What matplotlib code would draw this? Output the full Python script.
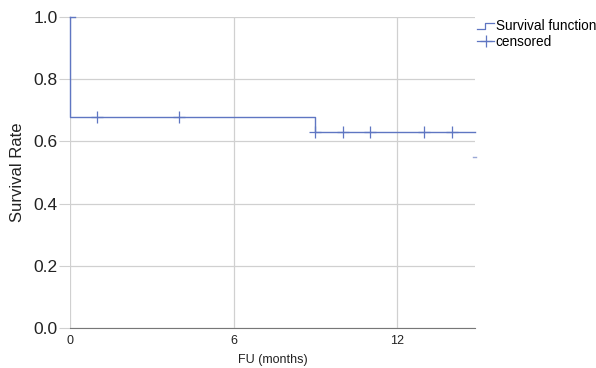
import matplotlib
matplotlib.use("Agg")
import matplotlib.pyplot as plt
from matplotlib.lines import Line2D
from matplotlib.legend_handler import HandlerBase

# Kaplan-Meier data
step_times = [0, 0, 9, 9, 14.85]
step_surv = [1.0, 0.68, 0.68, 0.63, 0.63]
censor_times = [1, 4, 9, 10, 11, 13, 14]
censor_surv = [0.68, 0.68, 0.63, 0.63, 0.63, 0.63, 0.63]
x_ticks = [0, 6, 12]
y_ticks = [0.0, 0.2, 0.4, 0.6, 0.8, 1.0]

blue = "#5f76c2"
grid = "#d0d0d0"

plt.rcParams["font.family"] = ["Liberation Sans", "DejaVu Sans"]


class StepHandler(HandlerBase):
    # small step-shaped icon for the survival function entry
    def create_artists(self, legend, orig, xd, yd, w, h, fontsize, trans):
        xs = [xd, xd + w * 0.45, xd + w * 0.45, xd + w]
        ys = [yd + h * 0.15, yd + h * 0.15, yd + h * 0.75, yd + h * 0.75]
        ln = Line2D(xs, ys, color=blue, lw=0.9, transform=trans)
        return [ln]


fig = plt.figure(figsize=(5.96, 3.68), dpi=100)
ax = fig.add_axes([0.1174, 0.1087, 0.6796, 0.8451])

ax.plot(step_times, step_surv, color=blue, lw=1.0, drawstyle="steps-post", clip_on=False)
ax.plot(censor_times, censor_surv, linestyle="none", marker="+", markersize=9,
        markeredgewidth=0.9, color=blue)
# small marks at the very top and the stray dash at the right
ax.plot([0, 0.18], [1.0, 1.0], color=blue, lw=1.0, clip_on=False)
ax.plot([14.78, 14.88], [0.55, 0.55], color="#9aa8d6", lw=1.0, clip_on=False)

ax.set_xlim(0, 14.86)
ax.set_ylim(0, 1.0)
ax.set_xticks(x_ticks)
ax.set_yticks(y_ticks)
ax.set_yticklabels([f"{v:.1f}" for v in y_ticks], fontsize=12.5, color="#222222")
ax.set_xticklabels([str(v) for v in x_ticks], fontsize=9, color="#222222")
ax.grid(True, color=grid, lw=0.9)
ax.set_axisbelow(True)
for s in ["top", "right", "left"]:
    ax.spines[s].set_visible(False)
ax.spines["bottom"].set_color("#777777")
ax.tick_params(axis="y", length=8, color=grid, pad=1)
ax.tick_params(axis="x", length=0, pad=5)

ax.set_ylabel("Survival Rate", fontsize=12, color="#222222", labelpad=6)
ax.set_xlabel("FU (months)", fontsize=9, color="#222222", labelpad=5)

h1 = Line2D([], [], color=blue)
h2 = Line2D([], [], color=blue, marker="+", markersize=9, lw=0.9, markeredgewidth=0.9)
fig.legend([h1, h2], ["Survival function", "censored"],
           handler_map={h1: StepHandler()},
           loc="upper left", bbox_to_anchor=(0.80, 0.948), frameon=False,
           fontsize=9.8, handlelength=1.3, handletextpad=0.1, labelspacing=0.15,
           borderaxespad=0, borderpad=0)

fig.savefig("out.png", dpi=100)
